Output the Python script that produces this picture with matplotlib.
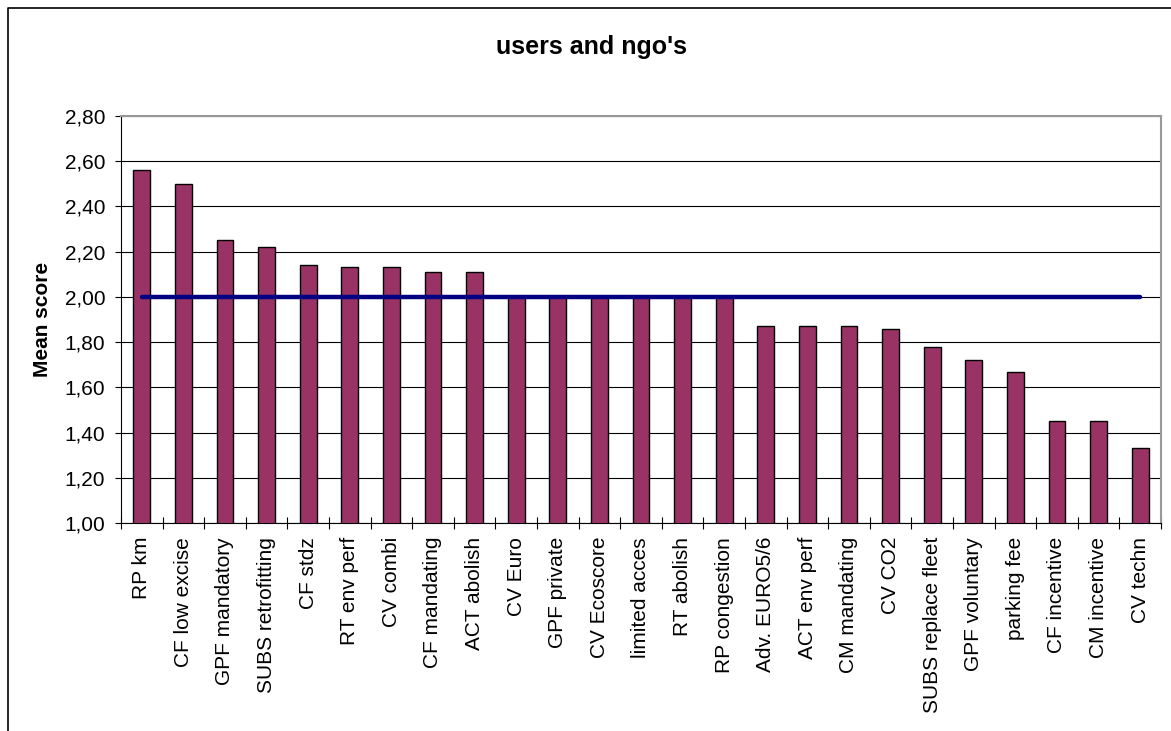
import matplotlib
matplotlib.use("Agg")
import matplotlib.pyplot as plt
from matplotlib.ticker import FuncFormatter, FixedLocator
from matplotlib.lines import Line2D
import numpy as np

plt.rcParams['font.family'] = ['Liberation Sans', 'DejaVu Sans']

# data
categories = ["RP km", "CF low excise", "GPF mandatory", "SUBS retrofitting", "CF stdz",
              "RT env perf", "CV combi", "CF mandating", "ACT abolish", "CV Euro",
              "GPF private", "CV Ecoscore", "limited acces", "RT abolish", "RP congestion",
              "Adv. EURO5/6", "ACT env perf", "CM mandating", "CV CO2", "SUBS replace fleet",
              "GPF voluntary", "parking fee", "CF incentive", "CM incentive", "CV techn"]
mean_scores = [2.56, 2.50, 2.25, 2.22, 2.14,
               2.13, 2.13, 2.11, 2.11, 2.00,
               2.00, 2.00, 2.00, 2.00, 2.00,
               1.87, 1.87, 1.87, 1.86, 1.78,
               1.72, 1.67, 1.45, 1.45, 1.33]
reference = [2.00] * len(categories)
y_ticks = [1.0, 1.2, 1.4, 1.6, 1.8, 2.0, 2.2, 2.4, 2.6, 2.8]

W, H = 1171, 731
fig = plt.figure(figsize=(W / 100, H / 100), dpi=100)
ax = fig.add_axes([121 / W, (H - 523) / H, 1040 / W, (523 - 116) / H])

x = np.arange(len(categories))
ax.bar(x, mean_scores, width=0.4, bottom=0, color='#993366',
       edgecolor='black', linewidth=1.0, zorder=3)
ax.plot(x, reference, color='#000080', linewidth=3.2, solid_capstyle='round', zorder=4)

ax.set_xlim(-0.5, len(categories) - 0.5)
ax.set_ylim(1.0, 2.8)
ax.set_yticks(y_ticks)
ax.yaxis.set_major_formatter(FuncFormatter(lambda v, p: f"{v:.2f}".replace('.', ',')))
ax.grid(axis='y', color='black', linewidth=0.8, zorder=1)
ax.set_axisbelow(True)

ax.set_xticks(x)
ax.set_xticklabels(categories, rotation=90, fontsize=15)
ax.xaxis.set_minor_locator(FixedLocator(np.arange(len(categories) + 1) - 0.5))
ax.tick_params(axis='x', which='major', length=0, pad=10)
ax.tick_params(axis='x', which='minor', direction='inout', length=8.6, width=0.8)
ax.tick_params(axis='y', direction='out', length=4.3, width=0.8, pad=7, labelsize=15)

for side in ['top', 'right']:
    ax.spines[side].set_color('#999999')
    ax.spines[side].set_linewidth(1.5)
for side in ['left', 'bottom']:
    ax.spines[side].set_color('black')
    ax.spines[side].set_linewidth(0.8)

fig.text(592 / W, 1 - 47 / H, "users and ngo's", ha='center', va='center',
         fontsize=18, fontweight='bold')
fig.text(43 / W, 1 - 319 / H, "Mean score", ha='center', va='center',
         rotation=90, fontsize=15, fontweight='bold')

# chart area border (only top and left visible)
fig.add_artist(Line2D([7.5 / W, 7.5 / W, 1.0], [0.0, 1 - 7.5 / H, 1 - 7.5 / H],
                      transform=fig.transFigure, color='black', linewidth=1.2))

fig.savefig("out.png", dpi=100)
